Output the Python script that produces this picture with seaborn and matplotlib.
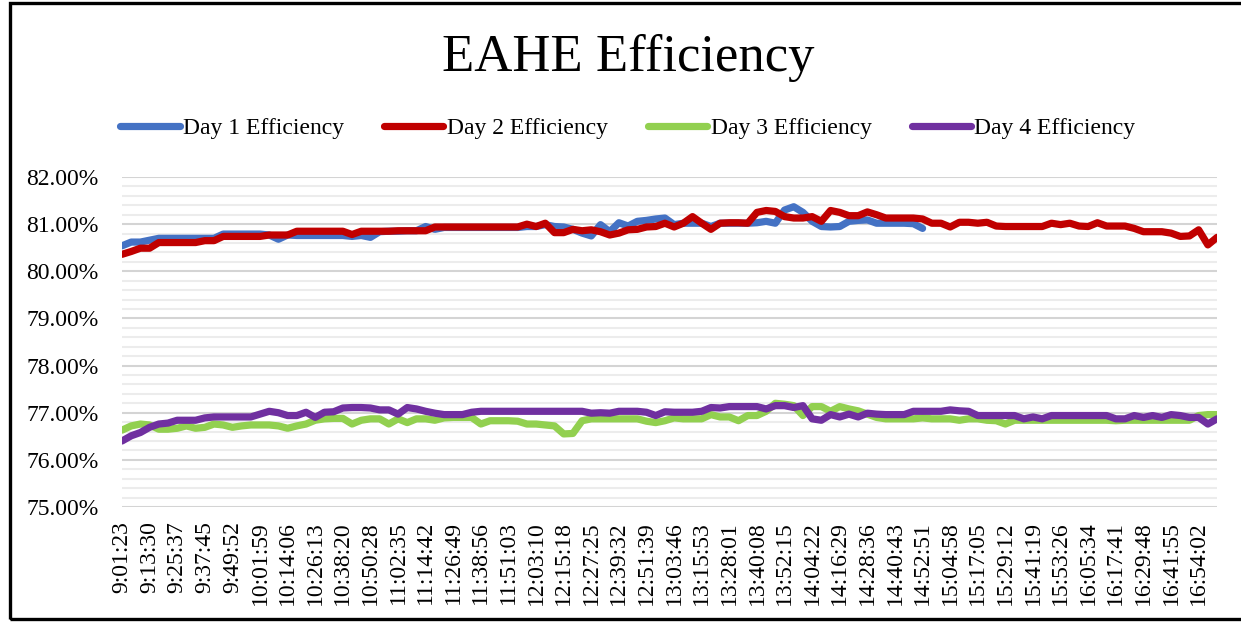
#Importing the needed Packages
import matplotlib
matplotlib.use("Agg")
import matplotlib.pyplot as plt
import matplotlib.ticker as mticker
from matplotlib.patches import Rectangle
import seaborn as sns

# Time labels shown on the x axis (one every 3 samples)
time_labels = ['9:01:23', '9:13:30', '9:25:37', '9:37:45', '9:49:52', '10:01:59', '10:14:06',
               '10:26:13', '10:38:20', '10:50:28', '11:02:35', '11:14:42', '11:26:49', '11:38:56',
               '11:51:03', '12:03:10', '12:15:18', '12:27:25', '12:39:32', '12:51:39', '13:03:46',
               '13:15:53', '13:28:01', '13:40:08', '13:52:15', '14:04:22', '14:16:29', '14:28:36',
               '14:40:43', '14:52:51', '15:04:58', '15:17:05', '15:29:12', '15:41:19', '15:53:26',
               '16:05:34', '16:17:41', '16:29:48', '16:41:55', '16:54:02']

# Efficiency readings in percent
day1 = [80.54, 80.62, 80.62, 80.66, 80.70, 80.70, 80.70, 80.70, 80.70, 80.70,
        80.70, 80.79, 80.79, 80.79, 80.79, 80.79, 80.77, 80.68, 80.77, 80.76,
        80.76, 80.76, 80.76, 80.76, 80.76, 80.74, 80.76, 80.72, 80.84, 80.85,
        80.85, 80.86, 80.86, 80.95, 80.89, 80.93, 80.93, 80.93, 80.93, 80.93,
        80.93, 80.93, 80.93, 80.93, 80.95, 80.95, 80.99, 80.95, 80.94, 80.89,
        80.81, 80.75, 80.99, 80.84, 81.03, 80.96, 81.06, 81.08, 81.11, 81.13,
        80.99, 81.02, 81.02, 81.02, 80.95, 81.02, 81.02, 81.02, 81.02, 81.03,
        81.06, 81.02, 81.30, 81.37, 81.25, 81.06, 80.95, 80.94, 80.95, 81.06,
        81.08, 81.09, 81.02, 81.02, 81.02, 81.02, 81.01, 80.91]

day2 = [80.36, 80.42, 80.49, 80.49, 80.61, 80.61, 80.61, 80.61, 80.61, 80.65,
        80.65, 80.74, 80.74, 80.74, 80.74, 80.74, 80.77, 80.77, 80.77, 80.85,
        80.85, 80.85, 80.85, 80.85, 80.85, 80.78, 80.85, 80.85, 80.85, 80.85,
        80.86, 80.86, 80.86, 80.86, 80.94, 80.94, 80.94, 80.94, 80.94, 80.94,
        80.94, 80.94, 80.94, 80.94, 81.00, 80.95, 81.02, 80.82, 80.82, 80.89,
        80.86, 80.88, 80.84, 80.77, 80.81, 80.88, 80.89, 80.94, 80.95, 81.02,
        80.94, 81.02, 81.16, 81.02, 80.89, 81.02, 81.03, 81.03, 81.02, 81.25,
        81.29, 81.27, 81.16, 81.13, 81.13, 81.16, 81.06, 81.29, 81.25, 81.18,
        81.18, 81.26, 81.20, 81.13, 81.13, 81.13, 81.13, 81.11, 81.02, 81.02,
        80.94, 81.04, 81.04, 81.02, 81.04, 80.96, 80.95, 80.95, 80.95, 80.95,
        80.95, 81.02, 80.99, 81.02, 80.96, 80.95, 81.03, 80.96, 80.96, 80.96,
        80.91, 80.84, 80.84, 80.84, 80.81, 80.74, 80.75, 80.88, 80.56, 80.72]

day3 = [76.63, 76.72, 76.76, 76.74, 76.65, 76.65, 76.67, 76.72, 76.67, 76.69,
        76.76, 76.74, 76.69, 76.72, 76.74, 76.74, 76.74, 76.72, 76.67, 76.72,
        76.76, 76.84, 76.87, 76.88, 76.88, 76.76, 76.84, 76.87, 76.87, 76.76,
        76.87, 76.79, 76.87, 76.87, 76.84, 76.89, 76.90, 76.90, 76.90, 76.76,
        76.83, 76.83, 76.83, 76.82, 76.76, 76.76, 76.74, 76.72, 76.55, 76.56,
        76.83, 76.87, 76.87, 76.87, 76.87, 76.87, 76.87, 76.82, 76.79, 76.83,
        76.89, 76.87, 76.87, 76.87, 76.96, 76.91, 76.91, 76.83, 76.94, 76.94,
        77.03, 77.20, 77.18, 77.15, 76.94, 77.13, 77.13, 77.03, 77.13, 77.08,
        77.04, 76.97, 76.90, 76.87, 76.87, 76.87, 76.87, 76.89, 76.87, 76.87,
        76.87, 76.84, 76.87, 76.87, 76.84, 76.83, 76.76, 76.84, 76.84, 76.84,
        76.84, 76.84, 76.84, 76.84, 76.84, 76.84, 76.84, 76.84, 76.83, 76.84,
        76.84, 76.84, 76.84, 76.84, 76.84, 76.84, 76.84, 76.94, 76.96, 76.96]

day4 = [76.40, 76.51, 76.58, 76.69, 76.76, 76.78, 76.84, 76.84, 76.84, 76.89,
        76.91, 76.91, 76.91, 76.91, 76.91, 76.97, 77.03, 77.00, 76.94, 76.94,
        77.01, 76.90, 77.01, 77.02, 77.10, 77.11, 77.11, 77.10, 77.06, 77.06,
        76.97, 77.11, 77.08, 77.03, 76.99, 76.96, 76.96, 76.96, 77.01, 77.03,
        77.03, 77.03, 77.03, 77.03, 77.03, 77.03, 77.03, 77.03, 77.03, 77.03,
        77.03, 76.99, 77.00, 76.99, 77.03, 77.03, 77.03, 77.01, 76.94, 77.02,
        77.01, 77.01, 77.01, 77.03, 77.11, 77.10, 77.13, 77.13, 77.13, 77.13,
        77.08, 77.15, 77.15, 77.11, 77.15, 76.87, 76.84, 76.96, 76.91, 76.97,
        76.91, 76.99, 76.97, 76.96, 76.96, 76.96, 77.03, 77.03, 77.03, 77.03,
        77.06, 77.04, 77.03, 76.94, 76.94, 76.94, 76.94, 76.94, 76.87, 76.91,
        76.87, 76.94, 76.94, 76.94, 76.94, 76.94, 76.94, 76.94, 76.87, 76.87,
        76.94, 76.90, 76.94, 76.90, 76.96, 76.94, 76.90, 76.90, 76.76, 76.87]

series_names = ['Day 1 Efficiency', 'Day 2 Efficiency', 'Day 3 Efficiency', 'Day 4 Efficiency']
series_colors = ['#4472C4', '#C00000', '#92D050', '#7030A0']

sns.set_style("white")
plt.rcParams['font.family'] = ['Liberation Serif', 'DejaVu Serif']
plt.rcParams['text.color'] = 'black'
plt.rcParams['xtick.color'] = 'black'
plt.rcParams['ytick.color'] = 'black'

fig = plt.figure(figsize=(12.41, 6.22), dpi=100)
ax = fig.add_axes([0.0983, 0.1849, 0.8824, 0.5305])

# draw each day
for name, color, vals in zip(series_names, series_colors, [day1, day2, day3, day4]):
    sns.lineplot(x=list(range(len(vals))), y=vals, ax=ax, color=color, linewidth=5.2,
                 label=name, solid_joinstyle='round', solid_capstyle='round')

ax.set_xlim(0, len(day2) - 1)
ax.set_ylim(75, 82)
ax.set_xticks([3 * i for i in range(len(time_labels))])
ax.set_xticklabels(time_labels, rotation=90, fontsize=17)
ax.yaxis.set_major_locator(mticker.MultipleLocator(1))
ax.yaxis.set_minor_locator(mticker.MultipleLocator(0.2))
ax.yaxis.set_major_formatter(mticker.FuncFormatter(lambda v, p: f"{v:.2f}%"))
ax.tick_params(axis='y', labelsize=17, length=0, pad=17)
ax.tick_params(axis='x', length=0, pad=10)
ax.tick_params(which='minor', length=0)

# gridlines like the excel chart
ax.grid(False)
ax.grid(axis='y', which='minor', color='#ececec', linewidth=1.5, zorder=0)
ax.grid(axis='y', which='major', color='#d4d4d4', linewidth=1.5, zorder=0)
ax.set_axisbelow(True)
for s in ax.spines.values():
    s.set_visible(False)

handles, labels = ax.get_legend_handles_labels()
ax.get_legend().remove()
fig.legend(handles, labels, loc='center', bbox_to_anchor=(0.506, 0.794), ncol=4,
           frameon=False, fontsize=17, handlelength=2.5, handletextpad=0.15,
           columnspacing=1.7)

fig.text(0.506, 0.907, 'EAHE Efficiency', ha='center', va='center', fontsize=38)

# outer frame of the chart
fig.patches.append(Rectangle((0.008, 0.005), 1.2, 0.99, transform=fig.transFigure,
                             fill=False, edgecolor='black', linewidth=2.4))

plt.savefig('out.png', dpi=100)
